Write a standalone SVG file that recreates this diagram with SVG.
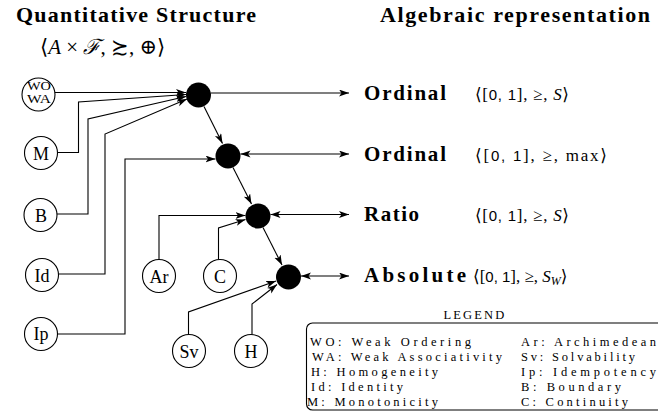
<svg xmlns="http://www.w3.org/2000/svg" width="658" height="412" viewBox="0 0 658 412">
  <style>
    .title { font-family: "Liberation Serif", "DejaVu Serif", serif; font-weight: bold; font-size: 22px; fill: #000; }
    .math { font-family: "Liberation Serif", "DejaVu Serif", serif; font-size: 21px; fill: #000; }
    .rmath { font-family: "Liberation Serif", "DejaVu Serif", serif; font-size: 17px; fill: #000; }
    .num { font-family: "Liberation Sans", "DejaVu Sans", sans-serif; font-size: 15px; }
    .it { font-style: italic; }
    .kind { font-family: "Liberation Serif", "DejaVu Serif", serif; font-weight: bold; font-size: 21px; fill: #000; }
    .prop circle { fill: #fff; stroke: #000; stroke-width: 1.1; }
    .prop text { font-family: "Liberation Serif", "DejaVu Serif", serif; font-size: 18px; fill: #000; text-anchor: middle; }
    .prop text.small { font-size: 11.5px; }
    .join circle { fill: #000; }
    .conn path { fill: none; stroke: #000; stroke-width: 1.1; }
    .in path { marker-end: url(#head); }
    .both path { marker-start: url(#head); marker-end: url(#head); }
    .legend text { font-family: "Liberation Serif", "DejaVu Serif", serif; font-size: 12.5px; fill: #000; }
    .legend rect { fill: none; stroke: #000; stroke-width: 1.1; }
  </style>
  <defs>
    <marker id="head" markerUnits="userSpaceOnUse" markerWidth="11" markerHeight="8" refX="10" refY="3.5" orient="auto-start-reverse">
      <path d="M0,0 L10,3.5 L0,7 L2.5,3.5 Z" fill="#000"/>
    </marker>
  </defs>

  <!-- headings -->
  <text class="title" x="16" y="22" textLength="240" lengthAdjust="spacing">Quantitative Structure</text>
  <text class="math" x="40" y="54">⟨<tspan class="it">A</tspan> × <tspan class="it">ℱ</tspan>, ≿, ⊕⟩</text>
  <text class="title" x="380" y="22" textLength="270" lengthAdjust="spacing">Algebraic representation</text>

  <!-- connectors -->
  <g id="connectors" class="conn">
    <g class="in">
      <path d="M55,92.5 H186"/>
      <path d="M57.5,152.5 H78.5 V102 L186,94.5"/>
      <path d="M57,214 H88 V119 L186,96.5"/>
      <path d="M58.5,274 H105 V134 L187,99"/>
      <path d="M57.5,334 H125 V159 L215.5,159"/>
      <path d="M159,259.5 V215.5 H245.5"/>
      <path d="M218.5,259.5 V228 L245.5,219.5"/>
      <path d="M188.5,334.5 V312 L276,281"/>
      <path d="M252,334.5 V304 L277,284.5"/>
      <path d="M204,106.5 L222.5,143.5"/>
      <path d="M233,167.5 L251.5,204"/>
      <path d="M263,227.5 L282,265"/>
      <path d="M211,93 H349"/>
    </g>
    <g class="both">
      <path d="M240.5,154 H349"/>
      <path d="M270.5,214.5 H349"/>
      <path d="M301,276 H349"/>
    </g>
  </g>

  <!-- property nodes -->
  <g id="node-wowa" class="prop"><circle cx="38.5" cy="94.5" r="16.5"/><text class="small" x="39" y="89.5" textLength="24" lengthAdjust="spacingAndGlyphs">WO</text><text class="small" x="39" y="102.5" textLength="24" lengthAdjust="spacingAndGlyphs">WA</text></g>
  <g id="node-m" class="prop"><circle cx="41" cy="153" r="16.5"/><text x="41" y="159.5">M</text></g>
  <g id="node-b" class="prop"><circle cx="40.5" cy="215" r="16.5"/><text x="41" y="221.5">B</text></g>
  <g id="node-id" class="prop"><circle cx="42" cy="275" r="16.5"/><text x="42" y="281.5">Id</text></g>
  <g id="node-ip" class="prop"><circle cx="41" cy="334" r="16.5"/><text x="41" y="340">Ip</text></g>
  <g id="node-ar" class="prop"><circle cx="159" cy="276" r="16.5"/><text x="159" y="282.5">Ar</text></g>
  <g id="node-c" class="prop"><circle cx="220" cy="276" r="16.5"/><text x="220" y="282.5">C</text></g>
  <g id="node-sv" class="prop"><circle cx="189" cy="351" r="16.5"/><text x="189" y="357.5">Sv</text></g>
  <g id="node-h" class="prop"><circle cx="251" cy="351" r="16.5"/><text x="251" y="357.5">H</text></g>

  <!-- junction nodes -->
  <g id="node-j1" class="join"><circle cx="198.5" cy="95" r="12.5"/></g>
  <g id="node-j2" class="join"><circle cx="228" cy="156" r="12.5"/></g>
  <g id="node-j3" class="join"><circle cx="258" cy="216" r="12.5"/></g>
  <g id="node-j4" class="join"><circle cx="288.5" cy="277" r="12.5"/></g>

  <!-- representations -->
  <g id="rep-ordinal-s">
    <text class="kind" x="364" y="100" textLength="82" lengthAdjust="spacing">Ordinal</text>
    <text class="rmath" x="475" y="100" textLength="94" lengthAdjust="spacing">⟨[<tspan class="num">0, 1</tspan>], ≥, <tspan class="it">S</tspan>⟩</text>
  </g>
  <g id="rep-ordinal-max">
    <text class="kind" x="364" y="161" textLength="82" lengthAdjust="spacing">Ordinal</text>
    <text class="rmath" x="475" y="161" textLength="132" lengthAdjust="spacing">⟨[<tspan class="num">0, 1</tspan>], ≥, max⟩</text>
  </g>
  <g id="rep-ratio">
    <text class="kind" x="364" y="221" textLength="55" lengthAdjust="spacing">Ratio</text>
    <text class="rmath" x="475" y="221" textLength="94" lengthAdjust="spacing">⟨[<tspan class="num">0, 1</tspan>], ≥, <tspan class="it">S</tspan>⟩</text>
  </g>
  <g id="rep-absolute">
    <text class="kind" x="364" y="282" textLength="102" lengthAdjust="spacing">Absolute</text>
    <text class="rmath" x="473" y="282">⟨[<tspan class="num">0, 1</tspan>], ≥, <tspan class="it">S</tspan><tspan class="it" font-size="12" dy="3">W</tspan><tspan dy="-3">⟩</tspan></text>
  </g>

  <!-- legend -->
  <g id="legend" class="legend">
    <text x="475" y="319" text-anchor="middle" letter-spacing="2.2">LEGEND</text>
    <rect x="306.5" y="323" width="400" height="87" rx="6"/>
    <text x="310" y="346" textLength="161" lengthAdjust="spacing">WO: Weak Ordering</text>
    <text x="312" y="361" textLength="190" lengthAdjust="spacing">WA: Weak Associativity</text>
    <text x="311" y="376" textLength="127" lengthAdjust="spacing">H: Homogeneity</text>
    <text x="311" y="391" textLength="92" lengthAdjust="spacing">Id: Identity</text>
    <text x="307" y="406" textLength="131" lengthAdjust="spacing">M: Monotonicity</text>
    <text x="521" y="346" textLength="135" lengthAdjust="spacing">Ar: Archimedean</text>
    <text x="521" y="361" textLength="114" lengthAdjust="spacing">Sv: Solvability</text>
    <text x="521" y="376" textLength="135" lengthAdjust="spacing">Ip: Idempotency</text>
    <text x="521" y="391" textLength="100" lengthAdjust="spacing">B: Boundary</text>
    <text x="521" y="406" textLength="107" lengthAdjust="spacing">C: Continuity</text>
  </g>
</svg>
